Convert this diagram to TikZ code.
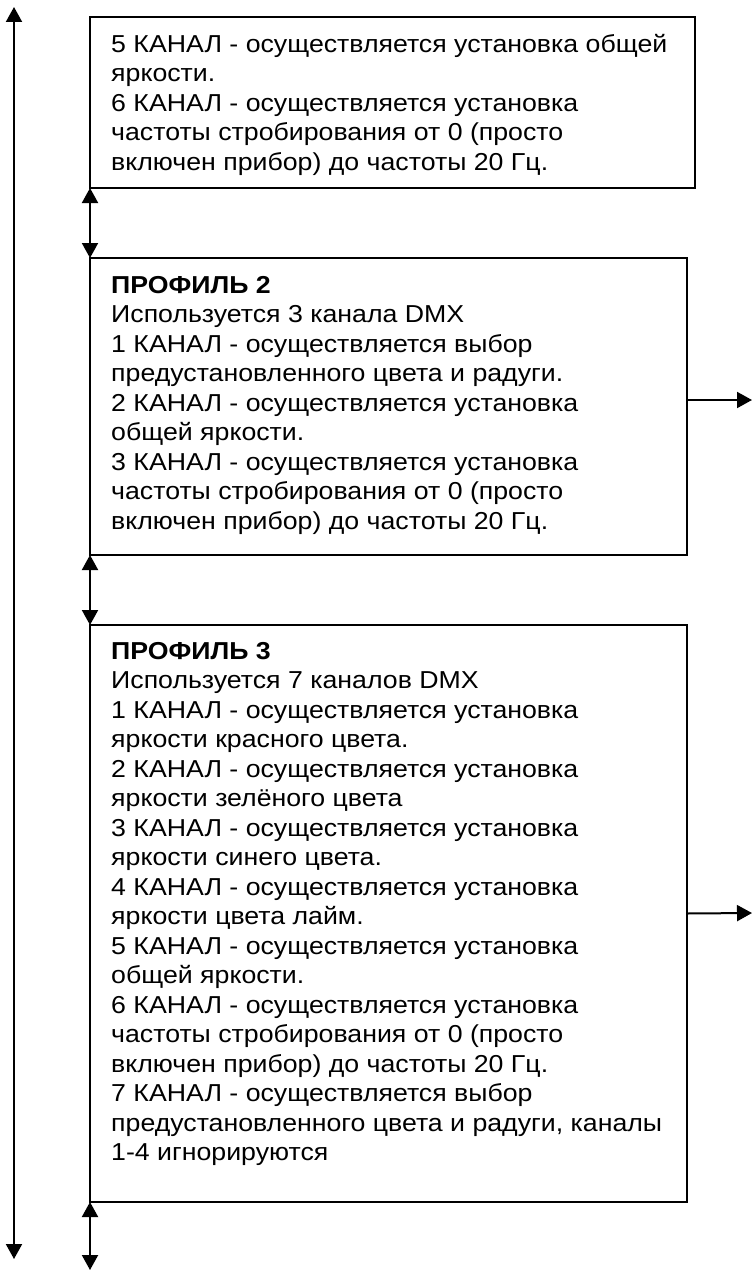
\documentclass[tikz,border=0pt]{standalone}
\usepackage{fontspec}
\setmainfont{Liberation Sans}[FakeStretch=1.09]
\usetikzlibrary{arrows.meta}
\tikzset{panel/.style={draw=black, line width=2pt, anchor=north west, inner sep=0pt, outer sep=0pt},
paneltext/.style={anchor=north west, inner sep=0pt, align=left, font=\fontsize{24.5}{29.5}\selectfont},
%both ends get a tip
link/.style={line width=2pt, {Triangle[width=16pt,length=15pt]}-{Triangle[width=16pt,length=15pt]}},
exitarrow/.style={line width=2pt, -{Triangle[width=16pt,length=15pt]}}}
\newcommand{\firstline}{\rule{0pt}{20pt}}

\begin{document}
\begin{tikzpicture}[x=1pt,y=-1pt]
 \useasboundingbox (0,0) rectangle (753,1271);

 % the three boxes
 \node[panel, minimum width=605pt, minimum height=171pt] (p1) at (90,17) {};
 \node[panel, minimum width=597pt, minimum height=297pt] (p2) at (90,258) {};
 \node[panel, minimum width=597pt, minimum height=577pt] (p3) at (90,625) {};

 \node[paneltext] (t1) at (111,32) {\firstline 5 КАНАЛ - осуществляется установка общей\\
 яркости.\\
 6 КАНАЛ - осуществляется установка\\
 частоты стробирования от 0 (просто\\
 включен прибор) до частоты 20 Гц.};

 \node[paneltext] (t2) at (111,273) {\firstline\textbf{ПРОФИЛЬ 2}\\
 Используется 3 канала DMX\\
 1 КАНАЛ - осуществляется выбор\\
 предустановленного цвета и радуги.\\
 2 КАНАЛ - осуществляется установка\\
 общей яркости.\\
 3 КАНАЛ - осуществляется установка\\
 частоты стробирования от 0 (просто\\
 включен прибор) до частоты 20 Гц.};

 \node[paneltext] (t3) at (111,639) {\firstline\textbf{ПРОФИЛЬ 3}\\
 Используется 7 каналов DMX\\
 1 КАНАЛ - осуществляется установка\\
 яркости красного цвета.\\
 2 КАНАЛ - осуществляется установка\\
 яркости зелёного цвета\\
 3 КАНАЛ - осуществляется установка\\
 яркости синего цвета.\\
 4 КАНАЛ - осуществляется установка\\
 яркости цвета лайм.\\
 5 КАНАЛ - осуществляется установка\\
 общей яркости.\\
 6 КАНАЛ - осуществляется установка\\
 частоты стробирования от 0 (просто\\
 включен прибор) до частоты 20 Гц.\\
 7 КАНАЛ - осуществляется выбор\\
 предустановленного цвета и радуги, каналы\\
 1-4 игнорируются};

 % arrows between boxes
 \draw[link] (p1.south west) -- (p2.north west);
 \draw[link] (p2.south west) -- (p3.north west);
 \coordinate (p3end) at (90,1270);
 \draw[link] (p3.south west) -- (p3end);

 % long arrow on the left
 \coordinate (railtop) at (14,7);
 \coordinate (railbot) at (14,1259);
 \draw[link] (railtop) -- (railbot);

 % arrows to the right
 \coordinate (p2out) at (752,400);
 \draw[exitarrow] (p2out -| p2.east) -- (p2out);
 \coordinate (p3out) at (752,913);
 \draw[exitarrow] (p3.east) -- (p3out);

\end{tikzpicture}
\end{document}
